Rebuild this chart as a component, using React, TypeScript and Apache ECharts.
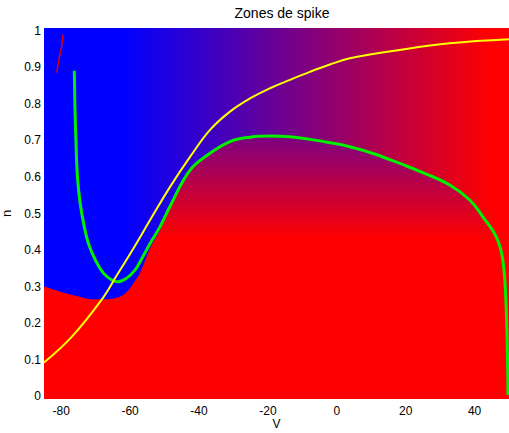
import React, { useEffect, useRef } from 'react';
import * as echarts from 'echarts';

// Axis ticks
const vTicks = [-80, -60, -40, -20, 0, 20, 40];
const nTicks = [0, 0.1, 0.2, 0.3, 0.4, 0.5, 0.6, 0.7, 0.8, 0.9, 1];

// n-nullcline (yellow)
const yellowV = [-85, -76.9, -68.2, -63.9, -59, -54.2, -48.4, -42.6, -36.8, -31, -25.2, -19.4, -13.6, -7.8, -2, 3.8, 18.3, 32.8, 50];
const yellowN = [0.092, 0.163, 0.265, 0.33, 0.405, 0.482, 0.573, 0.655, 0.729, 0.779, 0.815, 0.843, 0.866, 0.888, 0.908, 0.925, 0.948, 0.966, 0.977];

// V-nullcline (green)
const greenV = [-76.2, -76.0, -75.7, -75.3, -74.5, -73.5, -72.1, -70.1, -67.7, -65.3, -63.4, -61, -58.6, -57.1, -54.2, -51.3, -48.4, -42.6, -36.8, -31, -25.2, -19.4, -13.6, -7.8, -2, 3.8, 11, 18.3, 25.5, 32.8, 38.6, 42.4, 46.3, 48.2, 49.2, 49.7];
const greenN = [0.891, 0.783, 0.692, 0.601, 0.528, 0.473, 0.418, 0.373, 0.336, 0.318, 0.313, 0.323, 0.345, 0.368, 0.418, 0.464, 0.52, 0.619, 0.665, 0.697, 0.709, 0.712, 0.71, 0.703, 0.694, 0.683, 0.663, 0.637, 0.61, 0.578, 0.537, 0.491, 0.436, 0.373, 0.236, 0.003];

// Upper boundary of the spike zone (red region)
const zoneV = [-85, -80.3, -75, -70.6, -66, -63, -61, -59, -57.1, -54.2, -51.3, -48.4, -42.6, -36.8, -31, -25.2, -19.4, -13.6, -7.8, -2, 3.8, 11, 18.3, 25.5, 32.8, 38.6, 42.4, 46.3, 48.2, 49.2, 49.7, 50];
const zoneN = [0.3, 0.286, 0.273, 0.265, 0.266, 0.272, 0.285, 0.31, 0.338, 0.405, 0.455, 0.515, 0.619, 0.665, 0.697, 0.709, 0.712, 0.71, 0.703, 0.694, 0.683, 0.663, 0.637, 0.61, 0.578, 0.537, 0.491, 0.436, 0.373, 0.236, 0.003, -0.008];

// Small red artefacts near the top
const streakV = [-81.3, -80.5, -79.8, -79.5];
const streakN = [0.886, 0.93, 0.962, 0.99];
const speckV = [-75.9, -75.9, -75.9, -0.5, 0.3, 2, 3.5, 4];
const speckN = [0.965, 0.972, 0.98, 0.995, 0.985, 0.99, 0.98, 0.972];

// Plot extent
const vMin = -85;
const vMax = 50;
const nMin = -0.008;
const nMax = 1.008;

const zip = (a: number[], b: number[]) => a.map((x, i) => [x, b[i]]);

const FONT = 'Liberation Sans, Arial, sans-serif';

export default function App() {
  const ref = useRef<HTMLDivElement>(null);
  useEffect(() => {
    if (!ref.current) return;
    const chart = echarts.init(ref.current, undefined, { renderer: 'svg' });
    const bgStart = (-62 - vMin) / (vMax - vMin);
    const bgEnd = (45 - vMin) / (vMax - vMin);
    const zoneTop = Math.max(...zoneN);
    const zoneRed = (zoneTop - 0.43) / (zoneTop - nMin);
    chart.setOption({
      animation: false,
      backgroundColor: '#ffffff',
      title: {
        text: 'Zones de spike',
        left: 277,
        textAlign: 'center',
        top: 1,
        textStyle: { fontFamily: FONT, fontSize: 14, fontWeight: 'normal', color: '#000' },
      },
      grid: { left: 44, right: 0, top: 28, bottom: 34, outerBoundsMode: 'none', containLabel: false },
      xAxis: {
        type: 'value',
        min: vMin,
        max: vMax,
        name: 'V',
        nameLocation: 'middle',
        nameGap: 19,
        nameMoveOverlap: false,
        nameTextStyle: { fontFamily: FONT, fontSize: 12, color: '#000' },
        axisLine: { show: false },
        axisTick: { show: false },
        splitLine: { show: false },
        axisLabel: {
          customValues: vTicks,
          margin: 6,
          fontFamily: FONT,
          fontSize: 12,
          color: '#000',
        },
      },
      yAxis: {
        type: 'value',
        min: nMin,
        max: nMax,
        name: 'n',
        nameLocation: 'middle',
        nameGap: 21,
        nameTextStyle: { fontFamily: FONT, fontSize: 13, color: '#000' },
        axisLine: { show: false },
        axisTick: { show: false },
        splitLine: { show: false },
        axisLabel: {
          customValues: nTicks,
          margin: 3,
          fontFamily: FONT,
          fontSize: 12,
          color: '#000',
          formatter: (v: number) => String(Math.round(v * 10) / 10),
        },
      },
      series: [
        {
          type: 'line',
          silent: true,
          showSymbol: false,
          data: [[vMin, nMax], [vMax, nMax]],
          lineStyle: { width: 0 },
          areaStyle: {
            origin: 'start',
            opacity: 1,
            color: new echarts.graphic.LinearGradient(0, 0, 1, 0, [
              { offset: 0, color: '#0000ff' },
              { offset: bgStart, color: '#0000ff' },
              { offset: bgEnd, color: '#ff0000' },
              { offset: 1, color: '#ff0000' },
            ]),
          },
        },
        {
          type: 'line',
          silent: true,
          showSymbol: false,
          smooth: 0.4,
          data: zip(zoneV, zoneN),
          lineStyle: { width: 0 },
          areaStyle: {
            origin: 'start',
            opacity: 1,
            color: new echarts.graphic.LinearGradient(0, 0, 0, 1, [
              { offset: 0, color: '#7c0083' },
              { offset: zoneRed, color: '#ff0000' },
              { offset: 1, color: '#ff0000' },
            ]),
          },
        },
        {
          type: 'line',
          silent: true,
          showSymbol: false,
          data: zip(streakV, streakN),
          lineStyle: { width: 1.5, color: '#d80010' },
        },
        {
          type: 'scatter',
          silent: true,
          symbol: 'rect',
          symbolSize: [2, 3],
          data: zip(speckV, speckN),
          itemStyle: { color: '#e00010' },
        },
        {
          type: 'line',
          silent: true,
          showSymbol: false,
          smooth: 0.4,
          data: zip(greenV, greenN),
          lineStyle: { width: 3, color: '#00f000' },
        },
        {
          type: 'line',
          silent: true,
          showSymbol: false,
          smooth: 0.4,
          data: zip(yellowV, yellowN),
          lineStyle: { width: 2, color: '#ffff00' },
        },
      ],
    });
    return () => chart.dispose();
  }, []);
  return (
    <div
      ref={ref}
      style={{ position: 'absolute', left: 0, top: 0, width: 509, height: 433 }}
    />
  );
}
